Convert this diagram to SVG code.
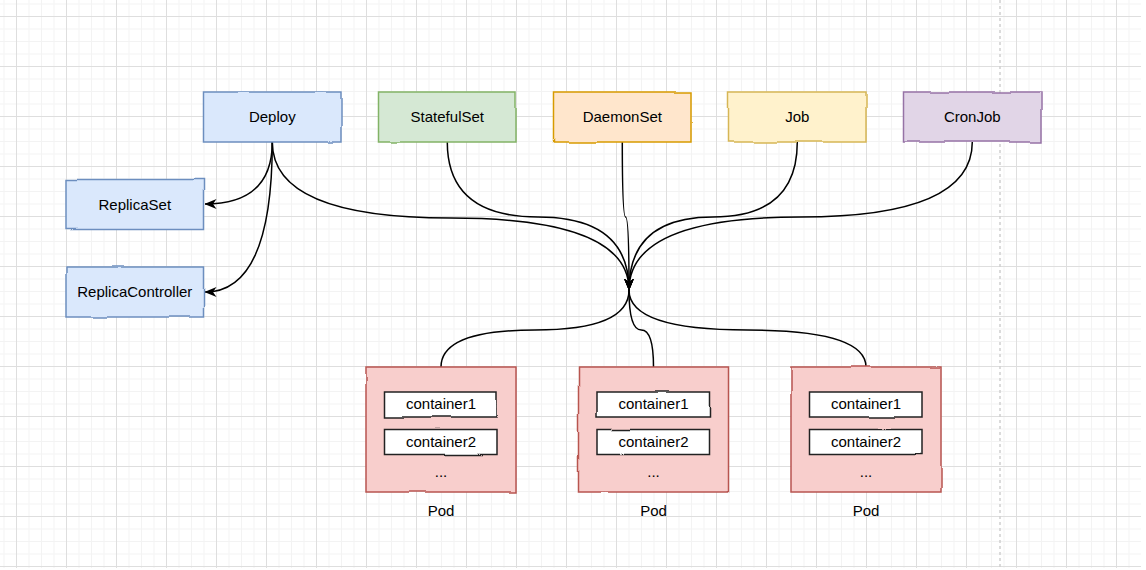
<svg xmlns="http://www.w3.org/2000/svg" width="1146" height="570" viewBox="0 0 1146 570">
<style>
.t{font-family:"Liberation Sans",Arial,sans-serif;font-size:15px;fill:#000;text-anchor:middle}
.e{fill:none;stroke:#000;stroke-width:1.5}
.ea{fill:none;stroke:#000;stroke-width:1.5;marker-end:url(#arr)}
.blue{fill:#dae8fc;stroke:#6c8ebf;stroke-width:1.5}
.green{fill:#d5e8d4;stroke:#82b366;stroke-width:1.5}
.orange{fill:#ffe6cc;stroke:#d79b00;stroke-width:1.5}
.yellow{fill:#fff2cc;stroke:#d6b656;stroke-width:1.5}
.purple{fill:#e1d5e7;stroke:#9673a6;stroke-width:1.5}
.red{fill:#f8cecc;stroke:#b85450;stroke-width:1.5}
.white{fill:#fff;stroke:#222;stroke-width:1.5}
.sk{filter:url(#sk)}
</style>
<defs>
<pattern id="grid" x="16" y="16" width="50" height="50" patternUnits="userSpaceOnUse">
<rect x="12.5" y="0" width="1" height="50" fill="#f3f3f3"/>
<rect x="25" y="0" width="1" height="50" fill="#f3f3f3"/>
<rect x="37.5" y="0" width="1" height="50" fill="#f3f3f3"/>
<rect x="0" y="12.5" width="50" height="1" fill="#f3f3f3"/>
<rect x="0" y="25" width="50" height="1" fill="#f3f3f3"/>
<rect x="0" y="37.5" width="50" height="1" fill="#f3f3f3"/>
<rect x="0" y="0" width="1" height="50" fill="#dedede"/>
<rect x="0" y="0" width="50" height="1" fill="#dedede"/>
</pattern>
<filter id="sk" x="-5%" y="-10%" width="110%" height="120%">
<feTurbulence type="fractalNoise" baseFrequency="0.025" numOctaves="1" seed="4" result="n"/>
<feDisplacementMap in="SourceGraphic" in2="n" scale="3" xChannelSelector="R" yChannelSelector="G"/>
</filter>
<marker id="arr" viewBox="0 0 12 10" refX="11.5" refY="5" markerWidth="12" markerHeight="10" markerUnits="userSpaceOnUse" orient="auto">
<path d="M0,0 L12,5 L0,10 L3.5,5 Z" fill="#000"/>
</marker>
</defs>
<rect x="0" y="0" width="1146" height="570" fill="#fff"/>
<rect x="0" y="0" width="1141" height="568" fill="url(#grid)"/>
<line x1="1000" y1="0" x2="1000" y2="568" stroke="#cfcfcf" stroke-width="1.5" stroke-dasharray="3 3"/>

<g id="connectors">
<path class="ea" d="M272.3 142 Q272.3 204 205 204"/>
<path class="ea" d="M272.3 142 Q272.3 292 205 292"/>
<path class="ea" d="M272.3 142 Q272.3 218 450.6 218 Q629 218 629 290"/>
<path class="ea" d="M447.3 142 Q447.3 217 538 217 Q629 217 629 290"/>
<path class="ea" d="M622.3 142 Q622.3 217 625.6 217 Q629 217 629 290"/>
<path class="ea" d="M797.3 142 Q797.3 217 713 217 Q629 217 629 290"/>
<path class="ea" d="M972.3 142 Q972.3 217 800.6 217 Q629 217 629 290"/>
<path class="e" d="M629 290 Q629 330 535 330 Q441 330 441 367"/>
<path class="e" d="M629 290 Q629 330 641.3 330 Q653.5 330 653.5 367"/>
<path class="e" d="M629 290 Q629 330 747.5 330 Q866 330 866 367"/>
</g>

<g id="deploy"><rect class="blue sk" x="203.5" y="92" width="137.5" height="50"/><text class="t" x="272.3" y="122.3">Deploy</text></g>
<g id="statefulset"><rect class="green sk" x="378.5" y="92" width="137.5" height="50"/><text class="t" x="447.3" y="122.3">StatefulSet</text></g>
<g id="daemonset"><rect class="orange sk" x="553.5" y="92" width="137.5" height="50"/><text class="t" x="622.3" y="122.3">DaemonSet</text></g>
<g id="job"><rect class="yellow sk" x="728.5" y="92" width="137.5" height="50"/><text class="t" x="797.3" y="122.3">Job</text></g>
<g id="cronjob"><rect class="purple sk" x="903.5" y="92" width="137.5" height="50"/><text class="t" x="972.3" y="122.3">CronJob</text></g>
<g id="replicaset"><rect class="blue sk" x="66" y="179.5" width="137.5" height="50"/><text class="t" x="134.8" y="209.5">ReplicaSet</text></g>
<g id="replicacontroller"><rect class="blue sk" x="66" y="267" width="137.5" height="50"/><text class="t" x="134.8" y="297.3">ReplicaController</text></g>

<g id="pod1">
<rect class="red sk" x="366" y="367" width="150" height="125"/>
<rect class="white sk" x="384.5" y="392" width="112.5" height="25"/><text class="t" x="441" y="409">container1</text>
<rect class="white sk" x="384.5" y="429.5" width="112.5" height="25"/><text class="t" x="441" y="446.7">container2</text>
<text class="t" x="441" y="477.3">...</text>
<text class="t" x="441" y="515.7">Pod</text>
</g>
<g id="pod2">
<rect class="red sk" x="578.5" y="367" width="150" height="125"/>
<rect class="white sk" x="597" y="392" width="112.5" height="25"/><text class="t" x="653.5" y="409">container1</text>
<rect class="white sk" x="597" y="429.5" width="112.5" height="25"/><text class="t" x="653.5" y="446.7">container2</text>
<text class="t" x="653.5" y="477.3">...</text>
<text class="t" x="653.5" y="515.7">Pod</text>
</g>
<g id="pod3">
<rect class="red sk" x="791" y="367" width="150" height="125"/>
<rect class="white sk" x="809.5" y="392" width="112.5" height="25"/><text class="t" x="866" y="409">container1</text>
<rect class="white sk" x="809.5" y="429.5" width="112.5" height="25"/><text class="t" x="866" y="446.7">container2</text>
<text class="t" x="866" y="477.3">...</text>
<text class="t" x="866" y="515.7">Pod</text>
</g>
</svg>
